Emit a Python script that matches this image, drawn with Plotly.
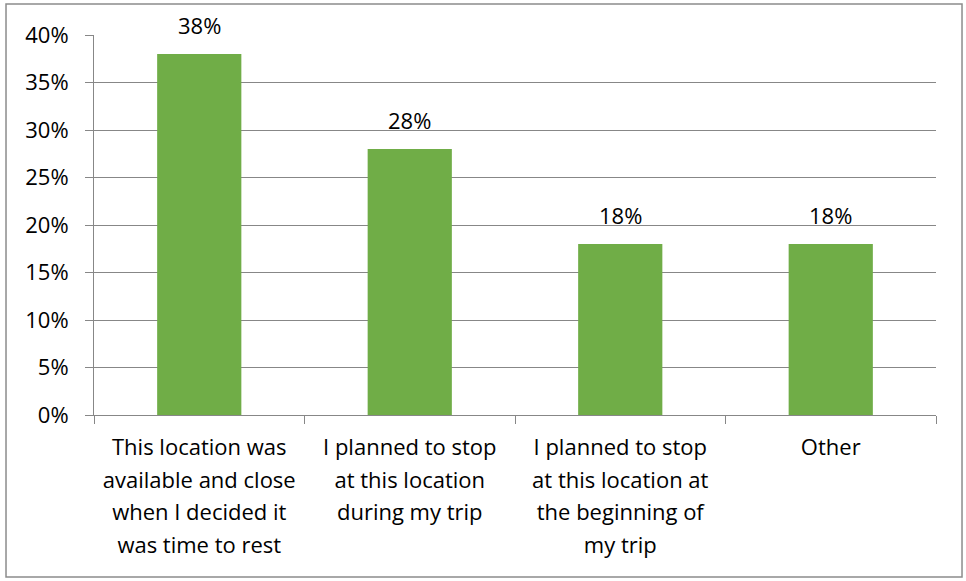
import plotly.graph_objects as go

categories = [
    "This location was<br>available and close<br>when I decided it<br>was time to rest",
    "I planned to stop<br>at this location<br>during my trip",
    "I planned to stop<br>at this location at<br>the beginning of<br>my trip",
    "Other",
]
values = [0.38, 0.28, 0.18, 0.18]
value_labels = ["38%", "28%", "18%", "18%"]
y_ticks = [0, 0.05, 0.10, 0.15, 0.20, 0.25, 0.30, 0.35, 0.40]
y_tick_labels = ["0%", "5%", "10%", "15%", "20%", "25%", "30%", "35%", "40%"]

FONT = "Open Sans"
GRID = "#878787"
BAR = "#70AD47"


def wrap(label):
    return "<br>".join('<span style="font-size:22px">%s</span>' % p for p in label.split("<br>"))


fig = go.Figure()
fig.add_trace(go.Bar(x=categories, y=values, marker=dict(color=BAR, line=dict(width=0)),
                     hoverinfo="skip"))

for c, v, t in zip(categories, values, value_labels):
    fig.add_annotation(x=c, y=v, text=t, showarrow=False, yanchor="bottom", yshift=12,
                       font=dict(family=FONT, size=22, color="#000000"))

fig.update_layout(
    width=966, height=581,
    margin=dict(l=94, r=30, t=35, b=166),
    paper_bgcolor="white", plot_bgcolor="white",
    bargap=0.6, showlegend=False,
    font=dict(family=FONT, color="#000000"),
)
fig.update_xaxes(
    tickmode="array", tickvals=categories, ticktext=[wrap(c) for c in categories],
    tickfont=dict(family=FONT, size=25, color="#000000"),
    showline=True, linecolor=GRID, linewidth=1,
    ticks="outside", tickson="boundaries", ticklen=8, tickcolor=GRID,
    ticklabelstandoff=9,
    showgrid=False, fixedrange=True,
)
fig.update_yaxes(
    range=[0, 0.40], tickmode="array", tickvals=y_ticks, ticktext=y_tick_labels,
    tickfont=dict(family=FONT, size=22, color="#000000"),
    showline=True, linecolor=GRID, linewidth=1,
    ticks="outside", ticklen=8, tickcolor=GRID,
    ticklabelstandoff=12,
    showgrid=True, gridcolor=GRID, gridwidth=1, zeroline=False,
)
fig.add_shape(type="rect", xref="paper", yref="paper",
              x0=-0.1045, x1=1.0309, y0=-0.426, y1=1.0816,
              line=dict(color="#8c8c8c", width=1.5), fillcolor="rgba(0,0,0,0)")

fig.write_html("out.html")
